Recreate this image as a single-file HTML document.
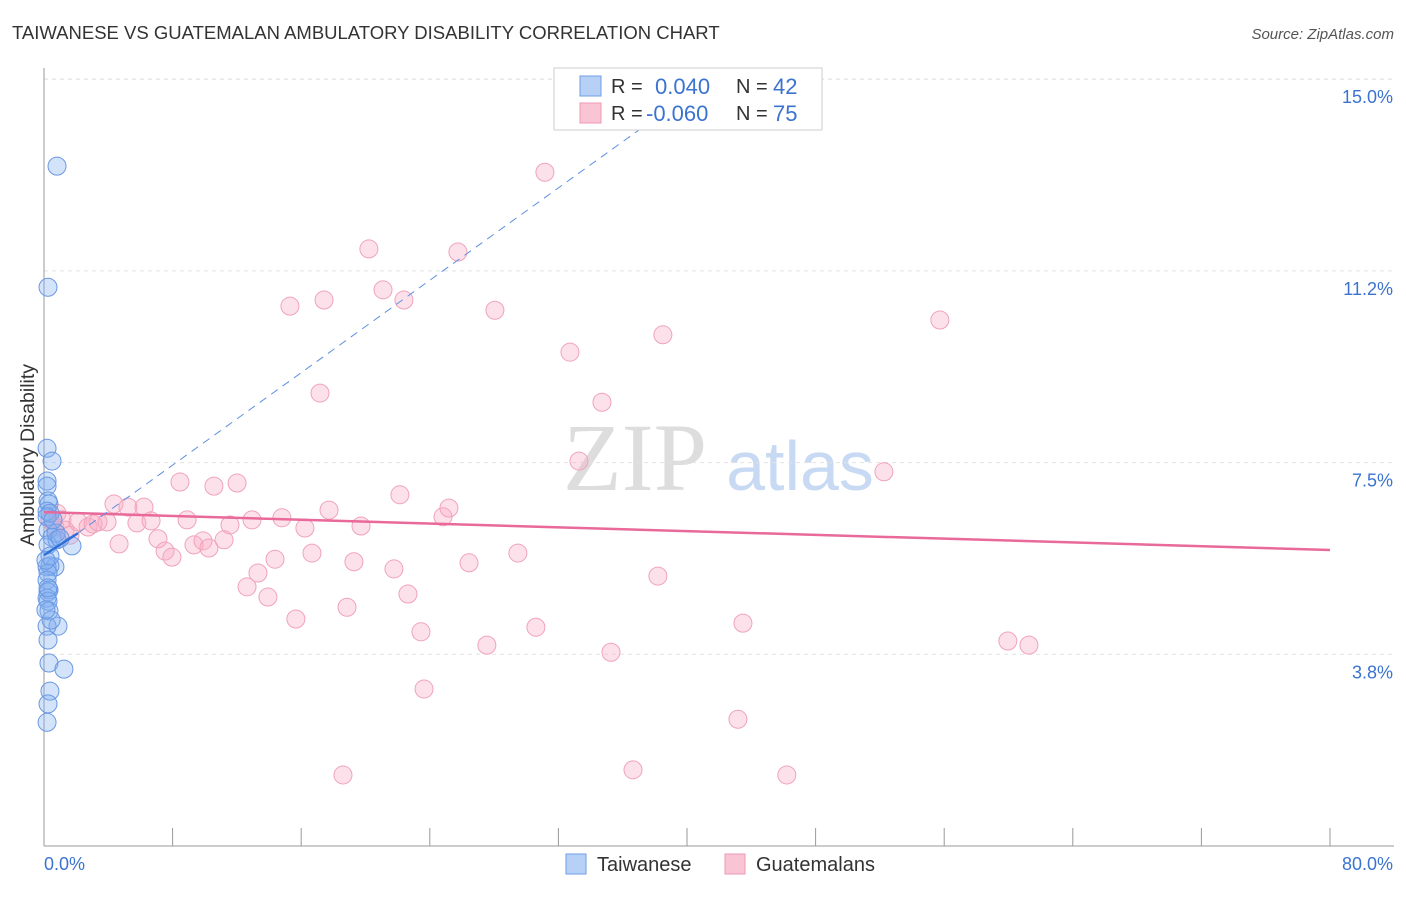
<!DOCTYPE html>
<html><head><meta charset="utf-8"><style>
body{margin:0;background:#fff;font-family:"Liberation Sans",sans-serif}
</style></head><body>
<svg id="c" width="1406" height="892" xmlns="http://www.w3.org/2000/svg">
<text x="12" y="39" font-size="18.5" fill="#333">TAIWANESE VS GUATEMALAN AMBULATORY DISABILITY CORRELATION CHART</text>
<text x="1394" y="39" font-size="15" fill="#555" text-anchor="end" font-style="italic">Source: ZipAtlas.com</text>
<text x="635" y="490" font-size="96" fill="#ddd" text-anchor="middle" font-family="Liberation Serif,serif">ZIP</text>
<text x="800" y="490" font-size="70" fill="#c8daf3" text-anchor="middle">atlas</text>
<text transform="translate(34,455) rotate(-90)" font-size="19.5" fill="#333" text-anchor="middle">Ambulatory Disability</text>
<g id="grid"></g><g id="axes"></g><g id="marks"></g>
<g id="legend">
<rect x="554" y="68" width="268" height="62" fill="#fff" stroke="#ccc"/>
<rect x="580" y="76" width="21" height="20" fill="#b7d0f5" stroke="#6f9ee6"/>
<rect x="580" y="103" width="21" height="20" fill="#f9c4d3" stroke="#ee9ab4"/>
<text x="611" y="93" font-size="20" fill="#333">R = </text>
<text x="655" y="94" font-size="22" fill="#3b73d0">0.040</text>
<text x="736" y="93" font-size="20" fill="#333">N = </text>
<text x="773" y="94" font-size="22" fill="#3b73d0">42</text>
<text x="611" y="120" font-size="20" fill="#333">R = </text>
<text x="646" y="121" font-size="22" fill="#3b73d0">-0.060</text>
<text x="736" y="120" font-size="20" fill="#333">N = </text>
<text x="773" y="121" font-size="22" fill="#3b73d0">75</text>
</g>
<g>
<rect x="566" y="854" width="20" height="20" fill="#b7d0f5" stroke="#6f9ee6"/>
<text x="597" y="871" font-size="20" fill="#333">Taiwanese</text>
<rect x="725" y="854" width="20" height="20" fill="#f9c4d3" stroke="#ee9ab4"/>
<text x="756" y="871" font-size="20" fill="#333">Guatemalans</text>
</g>
</svg>
<script>
const xTicks=[0,8,16,24,32,40,48,56,64,72,80];
const yTicks=[3.75,7.5,11.25,15];
const yTickLabels=["3.8%","7.5%","11.2%","15.0%"];
const xEndLabels=["0.0%","80.0%"];
const taiX=[0.81,0.25,0.19,0.50,0.19,0.19,0.25,0.31,0.19,0.37,0.19,0.25,0.50,0.81,1.74,0.25,0.68,0.19,0.37,0.25,0.19,0.31,0.25,0.19,0.25,0.31,0.87,0.19,0.25,0.31,1.24,0.37,0.25,0.19,0.75,1.00,0.37,0.12,0.25,0.44,0.12,0.56];
const taiY=[13.30,10.93,7.78,7.53,7.14,7.04,6.75,6.69,6.55,6.51,6.44,6.18,6.04,5.99,5.87,5.89,5.46,5.46,5.48,5.34,5.20,5.01,4.97,4.85,4.79,4.60,4.30,4.30,4.03,3.58,3.46,3.03,2.78,2.42,6.12,6.02,5.67,5.59,5.05,4.42,4.62,6.38];
const guaX=[0.81,0.37,0.68,1.12,1.31,1.62,2.11,2.74,3.05,3.36,3.92,4.35,4.67,5.22,5.78,6.22,6.66,7.09,7.53,7.96,8.46,8.90,9.33,9.89,10.26,10.57,11.20,11.57,12.01,12.94,12.63,13.31,13.93,14.37,14.80,15.30,15.67,16.23,16.67,17.17,17.42,17.73,18.60,18.85,19.28,19.72,20.21,21.09,21.77,22.14,22.39,22.64,23.45,23.64,24.82,25.19,25.75,26.44,27.55,28.05,29.48,30.60,31.16,32.72,33.28,34.71,35.27,36.64,38.19,38.50,43.17,43.48,46.21,52.25,55.73,59.96,61.27];
const guaY=[6.51,6.38,6.24,6.38,6.18,6.08,6.34,6.24,6.30,6.34,6.34,6.69,5.91,6.63,6.32,6.63,6.36,6.01,5.77,5.65,7.12,6.38,5.89,5.97,5.83,7.04,5.99,6.28,7.10,6.38,5.07,5.34,4.87,5.61,6.42,10.56,4.44,6.22,5.73,8.86,10.68,6.57,1.39,4.67,5.56,6.26,11.68,10.88,5.42,6.87,10.68,4.93,4.19,3.07,6.44,6.61,11.62,5.54,3.93,10.48,5.73,4.28,13.18,9.66,7.53,8.68,3.79,1.49,5.28,10.00,2.48,4.36,1.39,7.32,10.29,4.01,3.93];
const guaTrend=[6.53,5.79];
const taiTrendSolid=[0,5.69,2.11,6.12];
const taiTrendDash=[2.11,6.12,38,14.23];
const X=v=>44+v/80*1286, Y=v=>846-v/3.75*191.7;
const NS="http://www.w3.org/2000/svg";
function mk(p,t,a){const e=document.createElementNS(NS,t);for(const k in a)e.setAttribute(k,a[k]);document.getElementById(p).appendChild(e);return e;}
yTicks.forEach((t,i)=>{
 const g=mk('grid','line',{x1:44,x2:1394,y1:Y(t),y2:Y(t),stroke:'#e2e2e2','stroke-dasharray':'4,4'});
 
 
 const l=mk('grid','text',{x:1393,y:Y(t)+24,'font-size':18,fill:'#3b73d0','text-anchor':'end'});
 l.textContent=yTickLabels[i];
 
 
});
const topLine=mk('grid','line',{x1:44,x2:1394,y1:79,y2:79,stroke:'#e2e2e2','stroke-dasharray':'4,4'});


const ya=mk('axes','line',{x1:44,x2:44,y1:68,y2:846,stroke:'#999'});


const xa=mk('axes','line',{x1:44,x2:1394,y1:846,y2:846,stroke:'#999'});


xTicks.forEach(t=>{const k=mk('axes','line',{x1:X(t),x2:X(t),y1:828,y2:846,stroke:'#999'});
 
 });
const xl0=mk('axes','text',{x:44,y:870,'font-size':18,fill:'#3b73d0'});xl0.textContent=xEndLabels[0];


const xl1=mk('axes','text',{x:1393,y:870,'font-size':18,fill:'#3b73d0','text-anchor':'end'});xl1.textContent=xEndLabels[1];


guaX.forEach((v,i)=>{const c=mk('marks','circle',{cx:X(v),cy:Y(guaY[i]),r:9,fill:'rgba(248,170,195,0.35)',stroke:'#f0a3ba','stroke-width':1});
 
 });
taiX.forEach((v,i)=>{const c=mk('marks','circle',{cx:X(v),cy:Y(taiY[i]),r:9,fill:'rgba(130,175,240,0.35)',stroke:'#6a98e2','stroke-width':1});
 
 });
const gl=mk('marks','line',{x1:X(0),y1:Y(guaTrend[0]),x2:X(80),y2:Y(guaTrend[1]),stroke:'#e8699a','stroke-width':2.5});


const td=mk('marks','line',{x1:X(taiTrendDash[0]),y1:Y(taiTrendDash[1]),x2:X(taiTrendDash[2]),y2:Y(taiTrendDash[3]),stroke:'#5d8fe0','stroke-width':1,'stroke-dasharray':'8,6'});


const ts=mk('marks','line',{x1:X(taiTrendSolid[0]),y1:Y(taiTrendSolid[1]),x2:X(taiTrendSolid[2]),y2:Y(taiTrendSolid[3]),stroke:'#2f6fd8','stroke-width':2.5});


const svgEl=document.getElementById('c');svgEl.appendChild(document.getElementById('legend'));
</script>
</body></html>
